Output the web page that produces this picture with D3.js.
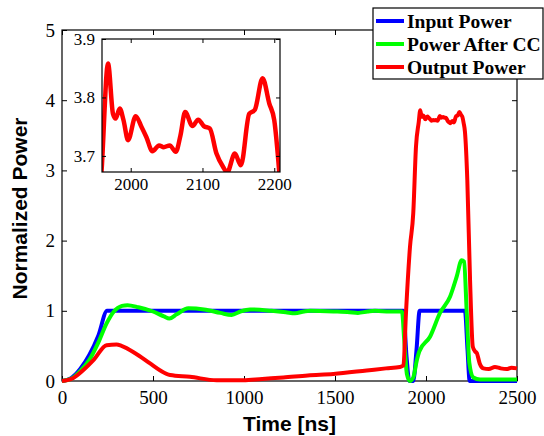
<!DOCTYPE html>
<html lang="en">
<head>
  <meta charset="utf-8">
  <title>Normalized Power</title>
  <script src="https://d3js.org/d3.v7.min.js"></script>
  <style>
    body { margin: 0; background: #fff; }
  </style>
</head>
<body>
<div id="chart"></div>
<script>
  // data (time in ns, normalized power)
  var seriesNames = ["Input Power", "Power After CC", "Output Power"];
  var seriesColors = ["#0000ff", "#00ff00", "#ff0000"];

  var inputPower = [[0,0],[50,0.04],[100,0.17],[150,0.37],[200,0.65],[248,1],[1875,1],[1893,0.35],
    [1908,0],[1930,0],[1948,0.45],[1965,1],[2214,1],[2228,0.45],[2240,0],[2500,0]];

  var afterCC = [[0,0],[50,0.03],[100,0.14],[150,0.3],[200,0.55],[245,0.82],[285,0.99],[330,1.07],
    [360,1.08],[420,1.05],[500,0.99],[560,0.92],[590,0.89],[630,0.95],[694,1.035],[780,1.02],
    [870,0.97],[932,0.94],[980,0.99],[1033,1.02],[1150,1.0],[1230,0.98],[1280,0.965],[1330,0.99],
    [1363,1.0],[1500,0.99],[1580,0.98],[1626,0.97],[1680,0.99],[1720,1.0],[1800,0.99],[1868,0.99],
    [1880,0.6],[1895,0.1],[1912,0],[1930,0.05],[1950,0.3],[1963,0.42],[2022,0.63],[2077,0.97],
    [2132,1.2],[2169,1.49],[2196,1.72],[2209,1.7],[2224,0.97],[2238,0.26],[2260,0.05],[2297,0.02],[2500,0.02]];

  var outputPower = [[0,0],[60,0.04],[119,0.16],[174,0.3],[245,0.51],[300,0.52],[327,0.5],[400,0.4],
    [484,0.25],[540,0.15],[594,0.085],[703,0.06],[850,0.01],[996,0.01],[1100,0.03],[1216,0.05],
    [1350,0.08],[1491,0.1],[1674,0.15],[1780,0.18],[1857,0.2],[1876,0.22],[1890,0.97],[1912,1.91],
    [1930,2.39],[1945,3.34],[1960,3.687],[1968.4,3.858],[1975.3,3.772],[1979,3.764],[1984.7,3.781],
    [1990,3.761],[1996.3,3.727],[2007,3.768],[2014.9,3.75],[2021.9,3.732],[2030.2,3.708],
    [2039.5,3.718],[2046,3.715],[2054.4,3.718],[2062.8,3.707],[2069.3,3.735],[2075.8,3.775],
    [2086,3.751],[2094,3.762],[2101.9,3.751],[2110.2,3.747],[2119.5,3.704],[2128.8,3.681],
    [2134.4,3.672],[2145.1,3.704],[2153.5,3.684],[2165.1,3.772],[2173,3.779],[2183.7,3.833],
    [2193,3.79],[2200,3.761],[2207,3.672],[2214,3.55],[2227,2.86],[2242,1.44],[2257,0.49],
    [2270,0.42],[2279,0.4],[2295,0.25],[2315,0.18],[2345,0.17],[2379,0.2],[2410,0.18],
    [2443,0.17],[2470,0.19],[2500,0.18]];

  var xTicks = [0, 500, 1000, 1500, 2000, 2500];
  var yTicks = [0, 1, 2, 3, 4, 5];
  var insetXTicks = [2000, 2100, 2200];
  var insetYTicks = [3.7, 3.8, 3.9];

  var allSeries = [inputPower, afterCC, outputPower];

  var width = 544, height = 436;
  var plot = { left: 62, right: 517, top: 30, bottom: 381 };
  var inset = { left: 102, right: 280, top: 39, bottom: 172 };
  var tickFont = "'Liberation Serif', 'Times New Roman', serif";

  var svg = d3.select("#chart").append("svg")
    .attr("width", width)
    .attr("height", height);

  var x = d3.scaleLinear().domain([0, 2500]).range([plot.left, plot.right]);
  var y = d3.scaleLinear().domain([0, 5]).range([plot.bottom, plot.top]);

  // box axes with inward ticks on every side
  function boxAxes(g, xs, ys, xt, yt, xf, yf, r, tick, fs, padX) {
    function tidy(a) {
      a.select(".domain").remove();
      a.selectAll(".tick line").attr("stroke", "#000");
      a.selectAll(".tick text")
        .attr("fill", "#000")
        .style("font-family", tickFont)
        .style("font-size", fs + "px");
    }
    g.append("g").attr("transform", "translate(0," + r.bottom + ")")
      .call(d3.axisBottom(xs).tickValues(xt).tickSizeInner(-tick).tickSizeOuter(0).tickPadding(padX).tickFormat(xf))
      .call(tidy);
    g.append("g").attr("transform", "translate(" + r.left + ",0)")
      .call(d3.axisLeft(ys).tickValues(yt).tickSizeInner(-tick).tickSizeOuter(0).tickPadding(7).tickFormat(yf))
      .call(tidy);
    g.append("g").attr("transform", "translate(0," + r.top + ")")
      .call(d3.axisTop(xs).tickValues(xt).tickSizeInner(-tick).tickSizeOuter(0).tickFormat(""))
      .call(tidy);
    g.append("g").attr("transform", "translate(" + r.right + ",0)")
      .call(d3.axisRight(ys).tickValues(yt).tickSizeInner(-tick).tickSizeOuter(0).tickFormat(""))
      .call(tidy);
    g.append("rect")
      .attr("x", r.left).attr("y", r.top)
      .attr("width", r.right - r.left).attr("height", r.bottom - r.top)
      .attr("fill", "none").attr("stroke", "#000").attr("stroke-width", 1.2);
  }

  var main = svg.append("g");
  boxAxes(main, x, y, xTicks, yTicks, d3.format("d"), d3.format("d"), plot, 5, 19, 10);

  var line = d3.line()
    .x(function(d) { return x(d[0]); })
    .y(function(d) { return y(d[1]); })
    .curve(d3.curveMonotoneX);

  main.selectAll(".series")
    .data(allSeries)
    .enter()
    .append("path")
    .attr("class", "series")
    .attr("d", line)
    .attr("fill", "none")
    .attr("stroke", function(d, i) { return seriesColors[i]; })
    .attr("stroke-width", 4)
    .attr("stroke-linejoin", "round");

  // axis titles
  svg.append("text")
    .attr("x", (plot.left + plot.right) / 2)
    .attr("y", 431)
    .attr("text-anchor", "middle")
    .attr("font-family", "Liberation Sans, Arial, sans-serif")
    .attr("font-weight", "bold")
    .attr("font-size", 21)
    .text("Time [ns]");

  svg.append("text")
    .attr("transform", "translate(27," + ((plot.top + plot.bottom) / 2 + 3) + ") rotate(-90)")
    .attr("text-anchor", "middle")
    .attr("font-family", "Liberation Sans, Arial, sans-serif")
    .attr("font-weight", "bold")
    .attr("font-size", 21)
    .text("Normalized Power");

  // inset zoom on the output peak
  var ix = d3.scaleLinear().domain([1960, 2208]).range([inset.left, inset.right]);
  var iy = d3.scaleLinear().domain([3.6725, 3.9]).range([inset.bottom, inset.top]);

  var ig = svg.append("g");
  ig.append("rect")
    .attr("x", inset.left).attr("y", inset.top)
    .attr("width", inset.right - inset.left).attr("height", inset.bottom - inset.top)
    .attr("fill", "#fff");

  svg.append("clipPath").attr("id", "insetClip")
    .append("rect")
    .attr("x", inset.left).attr("y", inset.top)
    .attr("width", inset.right - inset.left).attr("height", inset.bottom - inset.top);

  var insetLine = d3.line()
    .x(function(d) { return ix(d[0]); })
    .y(function(d) { return iy(d[1]); })
    .curve(d3.curveMonotoneX);

  ig.append("path")
    .datum(outputPower)
    .attr("clip-path", "url(#insetClip)")
    .attr("d", insetLine)
    .attr("fill", "none")
    .attr("stroke", seriesColors[2])
    .attr("stroke-width", 4.5)
    .attr("stroke-linejoin", "round");

  boxAxes(ig, ix, iy, insetXTicks, insetYTicks, d3.format("d"), d3.format(".1f"), inset, 4, 17, 6);

  // legend
  var lg = svg.append("g");
  lg.append("rect")
    .attr("x", 373).attr("y", 8)
    .attr("width", 170).attr("height", 71)
    .attr("fill", "#fff").attr("stroke", "#000").attr("stroke-width", 1.2);

  var rows = lg.selectAll(".row")
    .data(seriesNames)
    .enter()
    .append("g")
    .attr("class", "row")
    .attr("transform", function(d, i) { return "translate(0," + (21 + i * 23) + ")"; });

  rows.append("line")
    .attr("x1", 376).attr("x2", 404)
    .attr("stroke", function(d, i) { return seriesColors[i]; })
    .attr("stroke-width", 4);

  rows.append("text")
    .attr("x", 407)
    .attr("y", 7)
    .attr("font-family", "Liberation Serif, Times New Roman, serif")
    .attr("font-weight", "bold")
    .attr("font-size", 19.5)
    .text(function(d) { return d; });
</script>
</body>
</html>
